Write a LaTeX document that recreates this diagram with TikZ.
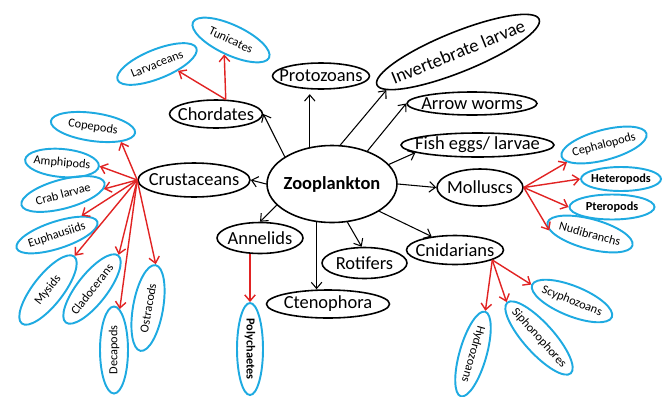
\documentclass[tikz,border=0pt]{standalone}
\usepackage{fontspec}
\setmainfont{Carlito}
\usetikzlibrary{shapes.geometric,arrows.meta}
\definecolor{taxblue}{RGB}{30,170,225}
\definecolor{taxred}{RGB}{225,35,35}
\begin{document}
\begin{tikzpicture}[x=0.02cm,y=-0.02cm,>={Straight Barb[length=3.5pt,width=6pt]},
  group/.style={ellipse,draw,line width=0.9pt,inner xsep=-2em,inner ysep=-1em,font=\fontsize{10.5}{12}\selectfont},
  taxon/.style={ellipse,draw=taxblue,line width=1.1pt,inner xsep=-2em,inner ysep=-1em,font=\fontsize{7}{8}\selectfont},
  taxonb/.style={taxon,font=\fontsize{7}{8}\selectfont\bfseries},
  sz/.style 2 args={minimum width=#1cm,minimum height=#2cm},
  blk/.style={->,line width=0.6pt},
  rd/.style={->,taxred,line width=0.8pt}]
  \useasboundingbox (0,0) rectangle (665,396);
  % 中心
  \node[group,sz={2.6}{1.54},font=\fontsize{10.5}{12}\selectfont\bfseries] (zoo) at (332,184) {Zooplankton};
  % 一级类群
  \node[group,sz={2.24}{0.68}] (crus) at (194,180) {Crustaceans};
  \node[group,sz={1.86}{0.56}] (chord) at (216,114) {Chordates};
  \node[group,sz={1.94}{0.52}] (proto) at (321,76) {Protozoans};
  \node[group,sz={3.5}{0.8},rotate=22] (inv) at (458,52) {Invertebrate larvae};
  \node[group,sz={2.6}{0.46}] (arrw) at (472,103.5) {Arrow worms};
  \node[group,sz={3.06}{0.48}] (fish) at (477.5,145) {Fish eggs/ larvae};
  \node[group,sz={1.72}{0.74}] (mol) at (480,187.5) {Molluscs};
  \node[group,sz={1.94}{0.58}] (cnid) at (455,250) {Cnidarians};
  \node[group,sz={1.7}{0.62}] (rot) at (364.5,263) {Rotifers};
  \node[group,sz={2.46}{0.56}] (cten) at (328,304) {Ctenophora};
  \node[group,sz={1.72}{0.62}] (anne) at (260,238) {Annelids};
  % 脊索动物
  \node[taxon,sz={1.68}{0.6},rotate=-25] (tuni) at (231,40) {Tunicates};
  \node[taxon,sz={1.7}{0.58},rotate=22] (larv) at (157,64) {Larvaceans};
  % 甲壳类
  \node[taxon,sz={1.7}{0.56},rotate=-8] (cope) at (93,127) {Copepods};
  \node[taxon,sz={1.48}{0.56},rotate=-5] (amph) at (62,163) {Amphipods};
  \node[taxon,sz={1.72}{0.58},rotate=15] (crab) at (63,194) {Crab larvae};
  \node[taxon,sz={1.7}{0.54},rotate=18] (euph) at (57,235) {Euphausiids};
  \node[taxon,sz={1.7}{0.6},rotate=52] (mys) at (48,290) {Mysids};
  \node[taxon,sz={1.7}{0.6},rotate=52] (clad) at (92,289) {Cladocerans};
  \node[taxon,sz={1.74}{0.56},rotate=90] (deca) at (114,350) {Decapods};
  \node[taxon,sz={1.74}{0.6},rotate=80] (ostr) at (148,308) {Ostracods};
  % 环节动物
  \node[taxonb,sz={1.84}{0.52},rotate=-90] (poly) at (250,349) {Polychaetes};
  % 软体动物
  \node[taxon,sz={1.76}{0.6},rotate=15] (ceph) at (604,145) {Cephalopods};
  \node[taxonb,sz={1.6}{0.48}] (het) at (621,179) {Heteropods};
  \node[taxonb,sz={1.7}{0.5}] (pter) at (612,207) {Pteropods};
  \node[taxon,sz={1.76}{0.6},rotate=-15] (nudi) at (590,234) {Nudibranchs};
  % 刺胞动物
  \node[taxon,sz={1.72}{0.6},rotate=-22] (scy) at (572,301) {Scyphozoans};
  \node[taxon,sz={1.9}{0.6},rotate=-48] (siph) at (539,338) {Siphonophores};
  \node[taxon,sz={1.76}{0.54},rotate=-106] (hyd) at (473,354) {Hydrozoans};
  % 黑色箭头
  \foreach \a/\b in {150/chord.east,78/inv.186,43/arrw.west,19/fish.187,west/crus.east,
    east/mol.west,201/anne.north,292/rot.100,330/cnid.150}
    \draw[blk] (zoo.\a) -- (\b);
  \draw[blk,shorten >=2.5pt] (zoo.121) -- (zoo.121 |- proto.south);
  \draw[blk] (zoo.248) -- (zoo.248 |- cten.north);
  % 红色箭头
  \foreach \b in {tuni.south,larv.-40}
    \draw[rd] (chord.56) -- (\b);
  \foreach \b in {cope.-20,amph.east,crab.-8,euph.20,mys.east,clad.east,deca.-8,ostr.east}
    \draw[rd] (crus.west) -- (\b);
  \draw[rd] (poly.west |- anne.south) -- (poly.west);
  \foreach \b in {ceph.190,het.west,pter.west,nudi.190}
    \draw[rd] (mol.east) -- (\b);
  \foreach \b in {scy.west,siph.west,hyd.west}
    \draw[rd] (cnid.-15) -- (\b);
\end{tikzpicture}
\end{document}
